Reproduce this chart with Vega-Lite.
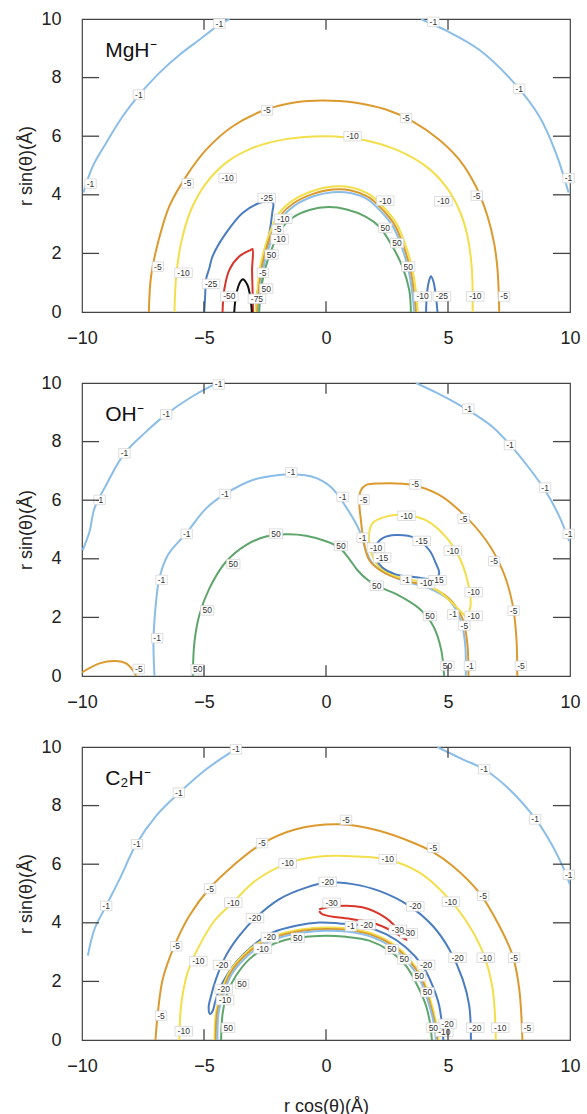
{
"$schema":"https://vega.github.io/schema/vega-lite/v6.json",
"padding":{"left":17,"top":9,"right":5,"bottom":5},
"spacing":71,
"bounds":"flush",
"config":{
 "view":{"stroke":"#444","strokeWidth":1.2},
 "font":"Liberation Sans",
 "axis":{"labelFont":"Liberation Sans","labelFontSize":18,"labelColor":"#222","ticks":false,"domain":false,"grid":false,"titleFont":"Liberation Sans","titleFontSize":18,"titleFontWeight":"normal","titleColor":"#222","labelFlush":false,"labelOverlap":false}
},
"datasets":{
"TX":[{"v":-5},{"v":0},{"v":5}],
"TY":[{"v":2},{"v":4},{"v":6},{"v":8}],
"L":[
{"p":1,"s":1,"l":"-1","x":-9.94,"y":4.08},{"p":1,"s":1,"l":"-1","x":-9.56,"y":4.97},{"p":1,"s":1,"l":"-1","x":-9.01,"y":5.77},{"p":1,"s":1,"l":"-1","x":-8.33,"y":6.68},{"p":1,"s":1,"l":"-1","x":-7.65,"y":7.42},{"p":1,"s":1,"l":"-1","x":-6.83,"y":8.16},{"p":1,"s":1,"l":"-1","x":-6.0,"y":8.78},{"p":1,"s":1,"l":"-1","x":-5.19,"y":9.29},{"p":1,"s":1,"l":"-1","x":-4.37,"y":9.81},{"p":1,"s":1,"l":"-1","x":-3.95,"y":10.0},
{"p":1,"s":2,"l":"-1","x":3.9,"y":10.0},{"p":1,"s":2,"l":"-1","x":4.1,"y":9.92},{"p":1,"s":2,"l":"-1","x":4.91,"y":9.61},{"p":1,"s":2,"l":"-1","x":6.28,"y":8.95},{"p":1,"s":2,"l":"-1","x":7.65,"y":7.87},{"p":1,"s":2,"l":"-1","x":8.74,"y":6.68},{"p":1,"s":2,"l":"-1","x":9.42,"y":5.43},{"p":1,"s":2,"l":"-1","x":9.94,"y":4.08},
{"p":1,"s":3,"l":"-5","x":-7.26,"y":0},{"p":1,"s":3,"l":"-5","x":-7.17,"y":1.22},{"p":1,"s":3,"l":"-5","x":-6.89,"y":2.35},{"p":1,"s":3,"l":"-5","x":-6.42,"y":3.61},{"p":1,"s":3,"l":"-5","x":-5.73,"y":4.63},{"p":1,"s":3,"l":"-5","x":-4.91,"y":5.54},{"p":1,"s":3,"l":"-5","x":-3.82,"y":6.34},{"p":1,"s":3,"l":"-5","x":-2.46,"y":6.91},{"p":1,"s":3,"l":"-5","x":-1.23,"y":7.16},{"p":1,"s":3,"l":"-5","x":-0.14,"y":7.22},{"p":1,"s":3,"l":"-5","x":1.09,"y":7.16},{"p":1,"s":3,"l":"-5","x":2.46,"y":6.91},{"p":1,"s":3,"l":"-5","x":3.55,"y":6.51},{"p":1,"s":3,"l":"-5","x":4.64,"y":5.88},{"p":1,"s":3,"l":"-5","x":5.46,"y":5.2},{"p":1,"s":3,"l":"-5","x":6.14,"y":4.29},{"p":1,"s":3,"l":"-5","x":6.62,"y":3.27},{"p":1,"s":3,"l":"-5","x":6.89,"y":2.35},{"p":1,"s":3,"l":"-5","x":7.03,"y":1.44},{"p":1,"s":3,"l":"-5","x":7.1,"y":0},
{"p":1,"s":4,"l":"-10","x":-6.21,"y":0},{"p":1,"s":4,"l":"-10","x":-6.14,"y":1.22},{"p":1,"s":4,"l":"-10","x":-5.94,"y":2.35},{"p":1,"s":4,"l":"-10","x":-5.53,"y":3.49},{"p":1,"s":4,"l":"-10","x":-4.91,"y":4.4},{"p":1,"s":4,"l":"-10","x":-4.1,"y":5.09},{"p":1,"s":4,"l":"-10","x":-3.0,"y":5.6},{"p":1,"s":4,"l":"-10","x":-1.64,"y":5.9},{"p":1,"s":4,"l":"-10","x":0,"y":6.0},{"p":1,"s":4,"l":"-10","x":1.5,"y":5.88},{"p":1,"s":4,"l":"-10","x":2.87,"y":5.54},{"p":1,"s":4,"l":"-10","x":4.1,"y":4.97},{"p":1,"s":4,"l":"-10","x":4.91,"y":4.29},{"p":1,"s":4,"l":"-10","x":5.46,"y":3.49},{"p":1,"s":4,"l":"-10","x":5.8,"y":2.58},{"p":1,"s":4,"l":"-10","x":5.98,"y":1.44},{"p":1,"s":4,"l":"-10","x":6.01,"y":0},
{"p":1,"s":5,"l":"-25","x":-4.99,"y":0},{"p":1,"s":5,"l":"-25","x":-4.95,"y":0.6},{"p":1,"s":5,"l":"-25","x":-4.92,"y":1.1},{"p":1,"s":5,"l":"-25","x":-4.78,"y":1.5},{"p":1,"s":5,"l":"-25","x":-4.65,"y":1.9},{"p":1,"s":5,"l":"-25","x":-4.1,"y":2.69},{"p":1,"s":5,"l":"-25","x":-3.42,"y":3.38},{"p":1,"s":5,"l":"-25","x":-2.74,"y":3.72},{"p":1,"s":5,"l":"-25","x":-2.4,"y":3.78},{"p":1,"s":5,"l":"-25","x":-2.17,"y":3.72},{"p":1,"s":5,"l":"-25","x":-2.2,"y":3.4},{"p":1,"s":5,"l":"-25","x":-2.32,"y":2.69},{"p":1,"s":5,"l":"-25","x":-2.5,"y":2.0},{"p":1,"s":5,"l":"-25","x":-2.67,"y":1.44},{"p":1,"s":5,"l":"-25","x":-2.8,"y":0.7},{"p":1,"s":5,"l":"-25","x":-2.87,"y":0},
{"p":1,"s":6,"l":"-25","x":4.1,"y":0},{"p":1,"s":6,"l":"-25","x":4.14,"y":0.65},{"p":1,"s":6,"l":"-25","x":4.22,"y":1.05},{"p":1,"s":6,"l":"-25","x":4.3,"y":1.22},{"p":1,"s":6,"l":"-25","x":4.4,"y":1.05},{"p":1,"s":6,"l":"-25","x":4.5,"y":0.55},{"p":1,"s":6,"l":"-25","x":4.57,"y":0},
{"p":1,"s":7,"l":"-50","x":-4.24,"y":0},{"p":1,"s":7,"l":"-50","x":-4.17,"y":0.76},{"p":1,"s":7,"l":"-50","x":-3.96,"y":1.44},{"p":1,"s":7,"l":"-50","x":-3.55,"y":1.9},{"p":1,"s":7,"l":"-50","x":-3.08,"y":2.12},{"p":1,"s":7,"l":"-50","x":-3.01,"y":2.15},{"p":1,"s":7,"l":"-50","x":-3.03,"y":1.44},{"p":1,"s":7,"l":"-50","x":-3.01,"y":0.76},{"p":1,"s":7,"l":"-50","x":-2.99,"y":0},
{"p":1,"s":8,"l":"-75","x":-3.76,"y":0},{"p":1,"s":8,"l":"-75","x":-3.68,"y":0.6},{"p":1,"s":8,"l":"-75","x":-3.5,"y":1.05},{"p":1,"s":8,"l":"-75","x":-3.4,"y":1.12},{"p":1,"s":8,"l":"-75","x":-3.22,"y":0.92},{"p":1,"s":8,"l":"-75","x":-3.1,"y":0.5},{"p":1,"s":8,"l":"-75","x":-3.04,"y":0},
{"p":1,"s":9,"l":"-10","x":-2.88,"y":0},{"p":1,"s":9,"l":"-10","x":-2.8,"y":0.8},{"p":1,"s":9,"l":"-10","x":-2.72,"y":1.44},{"p":1,"s":9,"l":"-10","x":-2.53,"y":2.13},{"p":1,"s":9,"l":"-10","x":-2.26,"y":2.81},{"p":1,"s":9,"l":"-10","x":-1.92,"y":3.38},{"p":1,"s":9,"l":"-10","x":-1.37,"y":3.8},{"p":1,"s":9,"l":"-10","x":-0.55,"y":4.13},{"p":1,"s":9,"l":"-10","x":0.27,"y":4.28},{"p":1,"s":9,"l":"-10","x":1.09,"y":4.24},{"p":1,"s":9,"l":"-10","x":1.77,"y":4.02},{"p":1,"s":9,"l":"-10","x":2.31,"y":3.62},{"p":1,"s":9,"l":"-10","x":2.86,"y":3.06},{"p":1,"s":9,"l":"-10","x":3.27,"y":2.26},{"p":1,"s":9,"l":"-10","x":3.54,"y":1.45},{"p":1,"s":9,"l":"-10","x":3.71,"y":0.52},{"p":1,"s":9,"l":"-10","x":3.76,"y":0},
{"p":1,"s":10,"l":"-5","x":-2.82,"y":0},{"p":1,"s":10,"l":"-5","x":-2.74,"y":0.8},{"p":1,"s":10,"l":"-5","x":-2.65,"y":1.44},{"p":1,"s":10,"l":"-5","x":-2.46,"y":2.1},{"p":1,"s":10,"l":"-5","x":-2.19,"y":2.75},{"p":1,"s":10,"l":"-5","x":-1.86,"y":3.3},{"p":1,"s":10,"l":"-5","x":-1.33,"y":3.71},{"p":1,"s":10,"l":"-5","x":-0.53,"y":4.03},{"p":1,"s":10,"l":"-5","x":0.27,"y":4.18},{"p":1,"s":10,"l":"-5","x":1.07,"y":4.14},{"p":1,"s":10,"l":"-5","x":1.73,"y":3.93},{"p":1,"s":10,"l":"-5","x":2.26,"y":3.54},{"p":1,"s":10,"l":"-5","x":2.79,"y":3.0},{"p":1,"s":10,"l":"-5","x":3.19,"y":2.22},{"p":1,"s":10,"l":"-5","x":3.46,"y":1.42},{"p":1,"s":10,"l":"-5","x":3.63,"y":0.51},{"p":1,"s":10,"l":"-5","x":3.68,"y":0},
{"p":1,"s":11,"l":"-1","x":-2.76,"y":0},{"p":1,"s":11,"l":"-1","x":-2.68,"y":0.8},{"p":1,"s":11,"l":"-1","x":-2.58,"y":1.44},{"p":1,"s":11,"l":"-1","x":-2.39,"y":2.08},{"p":1,"s":11,"l":"-1","x":-2.12,"y":2.7},{"p":1,"s":11,"l":"-1","x":-1.8,"y":3.23},{"p":1,"s":11,"l":"-1","x":-1.29,"y":3.63},{"p":1,"s":11,"l":"-1","x":-0.51,"y":3.95},{"p":1,"s":11,"l":"-1","x":0.27,"y":4.09},{"p":1,"s":11,"l":"-1","x":1.05,"y":4.05},{"p":1,"s":11,"l":"-1","x":1.69,"y":3.85},{"p":1,"s":11,"l":"-1","x":2.21,"y":3.47},{"p":1,"s":11,"l":"-1","x":2.73,"y":2.94},{"p":1,"s":11,"l":"-1","x":3.12,"y":2.18},{"p":1,"s":11,"l":"-1","x":3.39,"y":1.4},{"p":1,"s":11,"l":"-1","x":3.56,"y":0.5},{"p":1,"s":11,"l":"-1","x":3.61,"y":0},
{"p":1,"s":12,"l":"50","x":-2.74,"y":0},{"p":1,"s":12,"l":"50","x":-2.64,"y":0.9},{"p":1,"s":12,"l":"50","x":-2.45,"y":1.6},{"p":1,"s":12,"l":"50","x":-2.2,"y":2.2},{"p":1,"s":12,"l":"50","x":-1.91,"y":2.75},{"p":1,"s":12,"l":"50","x":-1.4,"y":3.2},{"p":1,"s":12,"l":"50","x":-0.68,"y":3.48},{"p":1,"s":12,"l":"50","x":0.1,"y":3.58},{"p":1,"s":12,"l":"50","x":0.85,"y":3.5},{"p":1,"s":12,"l":"50","x":1.64,"y":3.25},{"p":1,"s":12,"l":"50","x":2.18,"y":2.92},{"p":1,"s":12,"l":"50","x":2.72,"y":2.24},{"p":1,"s":12,"l":"50","x":3.13,"y":1.55},{"p":1,"s":12,"l":"50","x":3.41,"y":0.76},{"p":1,"s":12,"l":"50","x":3.48,"y":0},

{"p":2,"s":1,"l":"-1","x":-9.97,"y":4.3},{"p":2,"s":1,"l":"-1","x":-9.69,"y":4.93},{"p":2,"s":1,"l":"-1","x":-9.49,"y":5.72},{"p":2,"s":1,"l":"-1","x":-9.01,"y":6.52},{"p":2,"s":1,"l":"-1","x":-8.26,"y":7.6},{"p":2,"s":1,"l":"-1","x":-7.37,"y":8.34},{"p":2,"s":1,"l":"-1","x":-6.55,"y":8.93},{"p":2,"s":1,"l":"-1","x":-5.6,"y":9.48},{"p":2,"s":1,"l":"-1","x":-4.64,"y":9.93},{"p":2,"s":1,"l":"-1","x":-4.44,"y":10.0},
{"p":2,"s":2,"l":"-1","x":3.69,"y":10.0},{"p":2,"s":2,"l":"-1","x":4.5,"y":9.68},{"p":2,"s":2,"l":"-1","x":5.3,"y":9.33},{"p":2,"s":2,"l":"-1","x":6.1,"y":8.93},{"p":2,"s":2,"l":"-1","x":6.83,"y":8.5},{"p":2,"s":2,"l":"-1","x":7.51,"y":7.92},{"p":2,"s":2,"l":"-1","x":8.33,"y":7.09},{"p":2,"s":2,"l":"-1","x":9.01,"y":6.3},{"p":2,"s":2,"l":"-1","x":9.56,"y":5.45},{"p":2,"s":2,"l":"-1","x":9.97,"y":4.6},
{"p":2,"s":3,"l":"-1","x":-7.03,"y":0},{"p":2,"s":3,"l":"-1","x":-7.07,"y":1.17},{"p":2,"s":3,"l":"-1","x":-6.99,"y":2.31},{"p":2,"s":3,"l":"-1","x":-6.83,"y":3.33},{"p":2,"s":3,"l":"-1","x":-6.48,"y":4.13},{"p":2,"s":3,"l":"-1","x":-5.73,"y":4.87},{"p":2,"s":3,"l":"-1","x":-4.91,"y":5.72},{"p":2,"s":3,"l":"-1","x":-4.1,"y":6.23},{"p":2,"s":3,"l":"-1","x":-3.0,"y":6.69},{"p":2,"s":3,"l":"-1","x":-1.91,"y":6.86},{"p":2,"s":3,"l":"-1","x":-1.37,"y":6.88},{"p":2,"s":3,"l":"-1","x":-0.55,"y":6.8},{"p":2,"s":3,"l":"-1","x":0.2,"y":6.45},{"p":2,"s":3,"l":"-1","x":0.81,"y":5.78},{"p":2,"s":3,"l":"-1","x":1.36,"y":4.98},{"p":2,"s":3,"l":"-1","x":1.63,"y":4.3},{"p":2,"s":3,"l":"-1","x":1.9,"y":3.85},{"p":2,"s":3,"l":"-1","x":2.45,"y":3.51},{"p":2,"s":3,"l":"-1","x":3.27,"y":3.22},{"p":2,"s":3,"l":"-1","x":4.23,"y":2.99},{"p":2,"s":3,"l":"-1","x":5.04,"y":2.59},{"p":2,"s":3,"l":"-1","x":5.52,"y":1.91},{"p":2,"s":3,"l":"-1","x":5.7,"y":1.12},{"p":2,"s":3,"l":"-1","x":5.73,"y":0},
{"p":2,"s":4,"l":"50","x":-5.46,"y":0},{"p":2,"s":4,"l":"50","x":-5.39,"y":1.17},{"p":2,"s":4,"l":"50","x":-5.19,"y":2.08},{"p":2,"s":4,"l":"50","x":-4.78,"y":2.99},{"p":2,"s":4,"l":"50","x":-4.1,"y":3.9},{"p":2,"s":4,"l":"50","x":-3.28,"y":4.47},{"p":2,"s":4,"l":"50","x":-2.46,"y":4.76},{"p":2,"s":4,"l":"50","x":-1.64,"y":4.84},{"p":2,"s":4,"l":"50","x":-0.82,"y":4.79},{"p":2,"s":4,"l":"50","x":0.0,"y":4.6},{"p":2,"s":4,"l":"50","x":0.55,"y":4.38},{"p":2,"s":4,"l":"50","x":0.95,"y":4.0},{"p":2,"s":4,"l":"50","x":1.3,"y":3.6},{"p":2,"s":4,"l":"50","x":1.75,"y":3.25},{"p":2,"s":4,"l":"50","x":2.3,"y":3.0},{"p":2,"s":4,"l":"50","x":2.86,"y":2.8},{"p":2,"s":4,"l":"50","x":3.82,"y":2.3},{"p":2,"s":4,"l":"50","x":4.4,"y":1.7},{"p":2,"s":4,"l":"50","x":4.72,"y":0.9},{"p":2,"s":4,"l":"50","x":4.84,"y":0},
{"p":2,"s":5,"l":"-5","x":-10.0,"y":0.12},{"p":2,"s":5,"l":"-5","x":-9.28,"y":0.43},{"p":2,"s":5,"l":"-5","x":-8.6,"y":0.51},{"p":2,"s":5,"l":"-5","x":-8.19,"y":0.43},{"p":2,"s":5,"l":"-5","x":-7.92,"y":0.2},{"p":2,"s":5,"l":"-5","x":-7.78,"y":0},
{"p":2,"s":6,"l":"-5","x":5.84,"y":0},{"p":2,"s":6,"l":"-5","x":5.79,"y":1.12},{"p":2,"s":6,"l":"-5","x":5.59,"y":1.97},{"p":2,"s":6,"l":"-5","x":5.04,"y":2.65},{"p":2,"s":6,"l":"-5","x":4.23,"y":3.05},{"p":2,"s":6,"l":"-5","x":3.13,"y":3.28},{"p":2,"s":6,"l":"-5","x":2.31,"y":3.56},{"p":2,"s":6,"l":"-5","x":1.77,"y":3.96},{"p":2,"s":6,"l":"-5","x":1.56,"y":4.53},{"p":2,"s":6,"l":"-5","x":1.43,"y":5.32},{"p":2,"s":6,"l":"-5","x":1.36,"y":6.0},{"p":2,"s":6,"l":"-5","x":1.42,"y":6.32},{"p":2,"s":6,"l":"-5","x":1.65,"y":6.52},{"p":2,"s":6,"l":"-5","x":2.18,"y":6.57},{"p":2,"s":6,"l":"-5","x":3.54,"y":6.52},{"p":2,"s":6,"l":"-5","x":4.64,"y":6.18},{"p":2,"s":6,"l":"-5","x":5.59,"y":5.55},{"p":2,"s":6,"l":"-5","x":6.55,"y":4.64},{"p":2,"s":6,"l":"-5","x":7.23,"y":3.62},{"p":2,"s":6,"l":"-5","x":7.64,"y":2.48},{"p":2,"s":6,"l":"-5","x":7.8,"y":1.34},{"p":2,"s":6,"l":"-5","x":7.84,"y":0},
{"p":2,"s":7,"l":"-10","x":5.79,"y":1.97},{"p":2,"s":7,"l":"-10","x":5.93,"y":2.48},{"p":2,"s":7,"l":"-10","x":5.79,"y":3.28},{"p":2,"s":7,"l":"-10","x":5.45,"y":4.07},{"p":2,"s":7,"l":"-10","x":4.91,"y":4.75},{"p":2,"s":7,"l":"-10","x":4.09,"y":5.32},{"p":2,"s":7,"l":"-10","x":3.27,"y":5.49},{"p":2,"s":7,"l":"-10","x":2.45,"y":5.44},{"p":2,"s":7,"l":"-10","x":1.9,"y":5.21},{"p":2,"s":7,"l":"-10","x":1.77,"y":4.87},{"p":2,"s":7,"l":"-10","x":1.8,"y":4.4},{"p":2,"s":7,"l":"-10","x":1.95,"y":4.0},{"p":2,"s":7,"l":"-10","x":2.18,"y":3.73},{"p":2,"s":7,"l":"-10","x":2.86,"y":3.41},{"p":2,"s":7,"l":"-10","x":3.82,"y":3.22},{"p":2,"s":7,"l":"-10","x":4.64,"y":2.88},{"p":2,"s":7,"l":"-10","x":5.32,"y":2.37},{"p":2,"s":7,"l":"-10","x":5.79,"y":1.97},
{"p":2,"s":8,"l":"-15","x":2.04,"y":4.47},{"p":2,"s":8,"l":"-15","x":2.31,"y":4.7},{"p":2,"s":8,"l":"-15","x":2.86,"y":4.81},{"p":2,"s":8,"l":"-15","x":3.68,"y":4.7},{"p":2,"s":8,"l":"-15","x":4.23,"y":4.3},{"p":2,"s":8,"l":"-15","x":4.5,"y":3.85},{"p":2,"s":8,"l":"-15","x":4.64,"y":3.51},{"p":2,"s":8,"l":"-15","x":4.5,"y":3.32},{"p":2,"s":8,"l":"-15","x":3.68,"y":3.37},{"p":2,"s":8,"l":"-15","x":2.86,"y":3.47},{"p":2,"s":8,"l":"-15","x":2.31,"y":3.7},{"p":2,"s":8,"l":"-15","x":2.04,"y":4.02},{"p":2,"s":8,"l":"-15","x":2.01,"y":4.3},{"p":2,"s":8,"l":"-15","x":2.04,"y":4.47},

{"p":3,"s":1,"l":"-1","x":-9.76,"y":2.88},{"p":3,"s":1,"l":"-1","x":-9.49,"y":3.78},{"p":3,"s":1,"l":"-1","x":-9.01,"y":4.58},{"p":3,"s":1,"l":"-1","x":-8.46,"y":5.49},{"p":3,"s":1,"l":"-1","x":-7.78,"y":6.68},{"p":3,"s":1,"l":"-1","x":-6.96,"y":7.65},{"p":3,"s":1,"l":"-1","x":-6.01,"y":8.44},{"p":3,"s":1,"l":"-1","x":-4.91,"y":9.24},{"p":3,"s":1,"l":"-1","x":-3.82,"y":9.86},{"p":3,"s":1,"l":"-1","x":-3.55,"y":10.0},
{"p":3,"s":2,"l":"-1","x":4.57,"y":10.0},{"p":3,"s":2,"l":"-1","x":5.6,"y":9.58},{"p":3,"s":2,"l":"-1","x":6.48,"y":9.24},{"p":3,"s":2,"l":"-1","x":7.51,"y":8.56},{"p":3,"s":2,"l":"-1","x":8.6,"y":7.53},{"p":3,"s":2,"l":"-1","x":9.28,"y":6.63},{"p":3,"s":2,"l":"-1","x":9.69,"y":5.94},{"p":3,"s":2,"l":"-1","x":9.99,"y":5.32},
{"p":3,"s":3,"l":"-5","x":-6.99,"y":0},{"p":3,"s":3,"l":"-5","x":-6.89,"y":0.94},{"p":3,"s":3,"l":"-5","x":-6.69,"y":2.08},{"p":3,"s":3,"l":"-5","x":-6.21,"y":3.22},{"p":3,"s":3,"l":"-5","x":-5.6,"y":4.24},{"p":3,"s":3,"l":"-5","x":-4.78,"y":5.17},{"p":3,"s":3,"l":"-5","x":-3.82,"y":5.94},{"p":3,"s":3,"l":"-5","x":-2.66,"y":6.68},{"p":3,"s":3,"l":"-5","x":-1.23,"y":7.19},{"p":3,"s":3,"l":"-5","x":0.55,"y":7.36},{"p":3,"s":3,"l":"-5","x":2.18,"y":7.14},{"p":3,"s":3,"l":"-5","x":3.55,"y":6.74},{"p":3,"s":3,"l":"-5","x":4.37,"y":6.42},{"p":3,"s":3,"l":"-5","x":5.19,"y":5.94},{"p":3,"s":3,"l":"-5","x":6.28,"y":5.03},{"p":3,"s":3,"l":"-5","x":7.1,"y":3.9},{"p":3,"s":3,"l":"-5","x":7.65,"y":2.88},{"p":3,"s":3,"l":"-5","x":7.92,"y":1.74},{"p":3,"s":3,"l":"-5","x":8.05,"y":0},
{"p":3,"s":4,"l":"-10","x":-6.01,"y":0},{"p":3,"s":4,"l":"-10","x":-5.94,"y":1.17},{"p":3,"s":4,"l":"-10","x":-5.67,"y":2.31},{"p":3,"s":4,"l":"-10","x":-5.19,"y":3.22},{"p":3,"s":4,"l":"-10","x":-4.57,"y":4.07},{"p":3,"s":4,"l":"-10","x":-3.82,"y":4.69},{"p":3,"s":4,"l":"-10","x":-2.87,"y":5.45},{"p":3,"s":4,"l":"-10","x":-1.57,"y":6.03},{"p":3,"s":4,"l":"-10","x":-0.27,"y":6.26},{"p":3,"s":4,"l":"-10","x":0.82,"y":6.28},{"p":3,"s":4,"l":"-10","x":2.46,"y":6.17},{"p":3,"s":4,"l":"-10","x":3.82,"y":5.72},{"p":3,"s":4,"l":"-10","x":5.05,"y":4.81},{"p":3,"s":4,"l":"-10","x":5.87,"y":3.9},{"p":3,"s":4,"l":"-10","x":6.48,"y":2.88},{"p":3,"s":4,"l":"-10","x":6.83,"y":1.74},{"p":3,"s":4,"l":"-10","x":6.96,"y":0},
{"p":3,"s":5,"l":"-20","x":4.81,"y":0},{"p":3,"s":5,"l":"-20","x":4.64,"y":1.17},{"p":3,"s":5,"l":"-20","x":4.37,"y":1.85},{"p":3,"s":5,"l":"-20","x":3.96,"y":2.53},{"p":3,"s":5,"l":"-20","x":3.28,"y":3.16},{"p":3,"s":5,"l":"-20","x":2.46,"y":3.61},{"p":3,"s":5,"l":"-20","x":1.5,"y":3.9},{"p":3,"s":5,"l":"-20","x":0.55,"y":3.98},{"p":3,"s":5,"l":"-20","x":-0.27,"y":4.01},{"p":3,"s":5,"l":"-20","x":-1.23,"y":3.9},{"p":3,"s":5,"l":"-20","x":-2.18,"y":3.67},{"p":3,"s":5,"l":"-20","x":-3.0,"y":3.22},{"p":3,"s":5,"l":"-20","x":-3.69,"y":2.65},{"p":3,"s":5,"l":"-20","x":-4.23,"y":1.97},{"p":3,"s":5,"l":"-20","x":-4.51,"y":1.4},{"p":3,"s":5,"l":"-20","x":-4.64,"y":1.0},{"p":3,"s":5,"l":"-20","x":-4.75,"y":0.89},{"p":3,"s":5,"l":"-20","x":-4.81,"y":1.11},{"p":3,"s":5,"l":"-20","x":-4.71,"y":1.51},{"p":3,"s":5,"l":"-20","x":-4.51,"y":2.08},{"p":3,"s":5,"l":"-20","x":-4.1,"y":2.88},{"p":3,"s":5,"l":"-20","x":-3.55,"y":3.56},{"p":3,"s":5,"l":"-20","x":-2.87,"y":4.18},{"p":3,"s":5,"l":"-20","x":-1.91,"y":4.81},{"p":3,"s":5,"l":"-20","x":-0.82,"y":5.2},{"p":3,"s":5,"l":"-20","x":0.07,"y":5.38},{"p":3,"s":5,"l":"-20","x":1.09,"y":5.32},{"p":3,"s":5,"l":"-20","x":2.18,"y":5.09},{"p":3,"s":5,"l":"-20","x":3.41,"y":4.58},{"p":3,"s":5,"l":"-20","x":4.37,"y":3.9},{"p":3,"s":5,"l":"-20","x":5.05,"y":3.1},{"p":3,"s":5,"l":"-20","x":5.6,"y":2.08},{"p":3,"s":5,"l":"-20","x":5.87,"y":1.17},{"p":3,"s":5,"l":"-20","x":5.94,"y":0},
{"p":3,"s":6,"l":"-30","x":-0.28,"y":4.46},{"p":3,"s":6,"l":"-30","x":0.41,"y":4.57},{"p":3,"s":6,"l":"-30","x":1.49,"y":4.53},{"p":3,"s":6,"l":"-30","x":2.45,"y":4.17},{"p":3,"s":6,"l":"-30","x":3.13,"y":3.61},{"p":3,"s":6,"l":"-30","x":3.3,"y":3.42},{"p":3,"s":6,"l":"-30","x":2.72,"y":3.72},{"p":3,"s":6,"l":"-30","x":1.9,"y":4.0},{"p":3,"s":6,"l":"-30","x":1.09,"y":4.12},{"p":3,"s":6,"l":"-30","x":-0.14,"y":4.29},{"p":3,"s":6,"l":"-30","x":-0.28,"y":4.4},
{"p":3,"s":7,"l":"-10","x":-4.57,"y":0},{"p":3,"s":7,"l":"-10","x":-4.51,"y":0.94},{"p":3,"s":7,"l":"-10","x":-4.3,"y":1.63},{"p":3,"s":7,"l":"-10","x":-3.96,"y":2.31},{"p":3,"s":7,"l":"-10","x":-3.41,"y":2.88},{"p":3,"s":7,"l":"-10","x":-2.73,"y":3.33},{"p":3,"s":7,"l":"-10","x":-1.91,"y":3.61},{"p":3,"s":7,"l":"-10","x":-0.96,"y":3.78},{"p":3,"s":7,"l":"-10","x":0,"y":3.84},{"p":3,"s":7,"l":"-10","x":0.96,"y":3.8},{"p":3,"s":7,"l":"-10","x":1.91,"y":3.63},{"p":3,"s":7,"l":"-10","x":2.73,"y":3.29},{"p":3,"s":7,"l":"-10","x":3.41,"y":2.78},{"p":3,"s":7,"l":"-10","x":3.96,"y":2.1},{"p":3,"s":7,"l":"-10","x":4.3,"y":1.3},{"p":3,"s":7,"l":"-10","x":4.51,"y":0.6},{"p":3,"s":7,"l":"-10","x":4.61,"y":0},
{"p":3,"s":8,"l":"-5","x":-4.52,"y":0},{"p":3,"s":8,"l":"-5","x":-4.46,"y":0.94},{"p":3,"s":8,"l":"-5","x":-4.25,"y":1.61},{"p":3,"s":8,"l":"-5","x":-3.92,"y":2.28},{"p":3,"s":8,"l":"-5","x":-3.37,"y":2.84},{"p":3,"s":8,"l":"-5","x":-2.7,"y":3.28},{"p":3,"s":8,"l":"-5","x":-1.89,"y":3.56},{"p":3,"s":8,"l":"-5","x":-0.95,"y":3.73},{"p":3,"s":8,"l":"-5","x":0,"y":3.79},{"p":3,"s":8,"l":"-5","x":0.95,"y":3.75},{"p":3,"s":8,"l":"-5","x":1.89,"y":3.58},{"p":3,"s":8,"l":"-5","x":2.7,"y":3.25},{"p":3,"s":8,"l":"-5","x":3.37,"y":2.75},{"p":3,"s":8,"l":"-5","x":3.92,"y":2.08},{"p":3,"s":8,"l":"-5","x":4.25,"y":1.29},{"p":3,"s":8,"l":"-5","x":4.46,"y":0.6},{"p":3,"s":8,"l":"-5","x":4.56,"y":0},
{"p":3,"s":9,"l":"-1","x":-4.45,"y":0},{"p":3,"s":9,"l":"-1","x":-4.4,"y":0.94},{"p":3,"s":9,"l":"-1","x":-4.19,"y":1.6},{"p":3,"s":9,"l":"-1","x":-3.86,"y":2.25},{"p":3,"s":9,"l":"-1","x":-3.32,"y":2.79},{"p":3,"s":9,"l":"-1","x":-2.65,"y":3.22},{"p":3,"s":9,"l":"-1","x":-1.87,"y":3.5},{"p":3,"s":9,"l":"-1","x":-0.94,"y":3.67},{"p":3,"s":9,"l":"-1","x":0,"y":3.73},{"p":3,"s":9,"l":"-1","x":0.94,"y":3.69},{"p":3,"s":9,"l":"-1","x":1.87,"y":3.52},{"p":3,"s":9,"l":"-1","x":2.66,"y":3.19},{"p":3,"s":9,"l":"-1","x":3.32,"y":2.69},{"p":3,"s":9,"l":"-1","x":3.86,"y":2.04},{"p":3,"s":9,"l":"-1","x":4.2,"y":1.27},{"p":3,"s":9,"l":"-1","x":4.41,"y":0.6},{"p":3,"s":9,"l":"-1","x":4.51,"y":0},
{"p":3,"s":10,"l":"50","x":-4.3,"y":0},{"p":3,"s":10,"l":"50","x":-4.23,"y":0.94},{"p":3,"s":10,"l":"50","x":-4.03,"y":1.63},{"p":3,"s":10,"l":"50","x":-3.69,"y":2.19},{"p":3,"s":10,"l":"50","x":-3.14,"y":2.76},{"p":3,"s":10,"l":"50","x":-2.46,"y":3.16},{"p":3,"s":10,"l":"50","x":-1.64,"y":3.42},{"p":3,"s":10,"l":"50","x":-0.68,"y":3.53},{"p":3,"s":10,"l":"50","x":0,"y":3.56},{"p":3,"s":10,"l":"50","x":0.82,"y":3.52},{"p":3,"s":10,"l":"50","x":1.77,"y":3.39},{"p":3,"s":10,"l":"50","x":2.59,"y":3.05},{"p":3,"s":10,"l":"50","x":3.28,"y":2.53},{"p":3,"s":10,"l":"50","x":3.75,"y":1.85},{"p":3,"s":10,"l":"50","x":4.1,"y":1.17},{"p":3,"s":10,"l":"50","x":4.26,"y":0.6},{"p":3,"s":10,"l":"50","x":4.34,"y":0}
],
"T":[
{"p":1,"l":"-1","x":-4.37,"y":9.84},{"p":1,"l":"-1","x":-7.67,"y":7.42},{"p":1,"l":"-1","x":-9.65,"y":4.38},{"p":1,"l":"-1","x":4.4,"y":9.9},{"p":1,"l":"-1","x":7.92,"y":7.62},{"p":1,"l":"-1","x":9.94,"y":4.57},
{"p":1,"l":"-5","x":-2.42,"y":6.88},{"p":1,"l":"-5","x":3.28,"y":6.62},{"p":1,"l":"-5","x":-5.67,"y":4.39},{"p":1,"l":"-5","x":6.18,"y":3.97},{"p":1,"l":"-5","x":-6.89,"y":1.55},{"p":1,"l":"-5","x":7.3,"y":0.53},{"p":1,"l":"-5","x":-2.59,"y":1.34},{"p":1,"l":"-5","x":-1.98,"y":2.82},
{"p":1,"l":"-10","x":1.09,"y":6.0},{"p":1,"l":"-10","x":-4.03,"y":4.57},{"p":1,"l":"-10","x":4.81,"y":3.78},{"p":1,"l":"-10","x":-5.84,"y":1.34},{"p":1,"l":"-10","x":6.12,"y":0.53},{"p":1,"l":"-10","x":-1.75,"y":3.18},{"p":1,"l":"-10","x":2.43,"y":3.8},{"p":1,"l":"-10","x":3.96,"y":0.53},{"p":1,"l":"-10","x":-1.9,"y":2.48},
{"p":1,"l":"-25","x":-2.43,"y":3.89},{"p":1,"l":"-25","x":-4.71,"y":0.96},{"p":1,"l":"-25","x":4.75,"y":0.53},
{"p":1,"l":"-50","x":-3.96,"y":0.53},{"p":1,"l":"-75","x":-2.83,"y":0.45},
{"p":1,"l":"50","x":2.43,"y":2.87},{"p":1,"l":"50","x":2.91,"y":2.35},{"p":1,"l":"50","x":3.37,"y":1.55},{"p":1,"l":"50","x":-2.23,"y":1.96},{"p":1,"l":"50","x":-2.45,"y":0.8},

{"p":2,"l":"-1","x":-4.4,"y":9.95},{"p":2,"l":"-1","x":-6.55,"y":8.93},{"p":2,"l":"-1","x":-8.26,"y":7.6},{"p":2,"l":"-1","x":-9.28,"y":6.01},{"p":2,"l":"-1","x":-4.14,"y":6.21},{"p":2,"l":"-1","x":-5.71,"y":4.85},{"p":2,"l":"-1","x":-6.74,"y":3.28},{"p":2,"l":"-1","x":-6.92,"y":1.29},{"p":2,"l":"-1","x":-1.42,"y":6.95},{"p":2,"l":"-1","x":0.68,"y":6.11},{"p":2,"l":"-1","x":5.83,"y":9.12},{"p":2,"l":"-1","x":7.54,"y":7.88},{"p":2,"l":"-1","x":8.98,"y":6.43},{"p":2,"l":"-1","x":9.95,"y":4.85},{"p":2,"l":"-1","x":1.5,"y":4.72},{"p":2,"l":"-1","x":3.28,"y":3.28},{"p":2,"l":"-1","x":5.21,"y":2.1},{"p":2,"l":"-1","x":5.9,"y":0.35},
{"p":2,"l":"-5","x":3.66,"y":6.54},{"p":2,"l":"-5","x":1.54,"y":6.02},{"p":2,"l":"-5","x":5.64,"y":5.37},{"p":2,"l":"-5","x":6.89,"y":3.92},{"p":2,"l":"-5","x":7.69,"y":2.23},{"p":2,"l":"-5","x":7.99,"y":0.35},{"p":2,"l":"-5","x":-7.67,"y":0.24},{"p":2,"l":"-5","x":5.67,"y":1.72},
{"p":2,"l":"-10","x":3.3,"y":5.47},{"p":2,"l":"-10","x":5.2,"y":4.28},{"p":2,"l":"-10","x":6.05,"y":2.86},{"p":2,"l":"-10","x":6.05,"y":2.05},{"p":2,"l":"-10","x":2.05,"y":4.38},{"p":2,"l":"-10","x":4.1,"y":3.16},
{"p":2,"l":"-15","x":3.92,"y":4.61},{"p":2,"l":"-15","x":2.3,"y":4.04},{"p":2,"l":"-15","x":4.57,"y":3.27},
{"p":2,"l":"50","x":-2.05,"y":4.86},{"p":2,"l":"50","x":0.61,"y":4.44},{"p":2,"l":"50","x":-3.8,"y":3.82},{"p":2,"l":"50","x":-4.87,"y":2.24},{"p":2,"l":"50","x":2.08,"y":3.08},{"p":2,"l":"50","x":4.26,"y":2.05},{"p":2,"l":"50","x":-5.26,"y":0.23},{"p":2,"l":"50","x":4.98,"y":0.35},

{"p":3,"l":"-1","x":-3.69,"y":9.92},{"p":3,"l":"-1","x":-6.03,"y":8.44},{"p":3,"l":"-1","x":-7.75,"y":6.68},{"p":3,"l":"-1","x":-9.01,"y":4.58},{"p":3,"l":"-1","x":6.48,"y":9.24},{"p":3,"l":"-1","x":8.57,"y":7.53},{"p":3,"l":"-1","x":9.95,"y":5.64},{"p":3,"l":"-1","x":1.02,"y":3.88},
{"p":3,"l":"-5","x":0.82,"y":7.51},{"p":3,"l":"-5","x":-2.62,"y":6.72},{"p":3,"l":"-5","x":4.4,"y":6.56},{"p":3,"l":"-5","x":-4.75,"y":5.17},{"p":3,"l":"-5","x":6.44,"y":4.92},{"p":3,"l":"-5","x":-6.14,"y":3.2},{"p":3,"l":"-5","x":7.71,"y":2.81},{"p":3,"l":"-5","x":-6.76,"y":0.83},{"p":3,"l":"-5","x":8.26,"y":0.42},
{"p":3,"l":"-10","x":-1.57,"y":6.03},{"p":3,"l":"-10","x":2.53,"y":6.17},{"p":3,"l":"-10","x":-3.8,"y":4.69},{"p":3,"l":"-10","x":5.12,"y":4.72},{"p":3,"l":"-10","x":-5.23,"y":2.69},{"p":3,"l":"-10","x":6.55,"y":2.81},{"p":3,"l":"-10","x":-5.83,"y":0.3},{"p":3,"l":"-10","x":7.14,"y":0.42},{"p":3,"l":"-10","x":-2.6,"y":3.12},{"p":3,"l":"-10","x":-4.14,"y":1.36},{"p":3,"l":"-10","x":4.85,"y":0.28},
{"p":3,"l":"-20","x":0.07,"y":5.4},{"p":3,"l":"-20","x":3.66,"y":4.56},{"p":3,"l":"-20","x":-2.91,"y":4.16},{"p":3,"l":"-20","x":5.39,"y":2.81},{"p":3,"l":"-20","x":-4.26,"y":2.56},{"p":3,"l":"-20","x":-2.3,"y":3.5},{"p":3,"l":"-20","x":-4.19,"y":1.74},{"p":3,"l":"-20","x":1.67,"y":3.94},{"p":3,"l":"-20","x":4.1,"y":2.56},{"p":3,"l":"-20","x":6.12,"y":0.42},{"p":3,"l":"-20","x":4.98,"y":0.55},
{"p":3,"l":"-30","x":0.23,"y":4.68},{"p":3,"l":"-30","x":3.39,"y":3.64},{"p":3,"l":"-30","x":2.94,"y":3.76},
{"p":3,"l":"50","x":-1.16,"y":3.49},{"p":3,"l":"50","x":2.7,"y":3.1},{"p":3,"l":"50","x":3.21,"y":2.75},{"p":3,"l":"50","x":3.82,"y":2.17},{"p":3,"l":"50","x":4.16,"y":1.63},{"p":3,"l":"50","x":-3.44,"y":1.91},{"p":3,"l":"50","x":-4.01,"y":0.42},{"p":3,"l":"50","x":4.4,"y":0.42}
]
},
"vconcat":[
{"width":488,"height":293,
 "layer":[
  {"data":{"name":"L"},"transform":[{"filter":"datum.p==1"}],
   "mark":{"type":"line","strokeWidth":2,"interpolate":"catmull-rom","clip":true},
   "encoding":{
    "x":{"field":"x","type":"quantitative","scale":{"domain":[-10,10],"nice":false,"zero":false},"axis":{"values":[-10,-5,0,5,10],"labelPadding":17,"title":null}},
    "y":{"field":"y","type":"quantitative","scale":{"domain":[0,10],"nice":false},"axis":{"values":[0,2,4,6,8,10],"labelPadding":21,"title":"r sin(θ)(Å)","titlePadding":5}},
    "color":{"field":"l","type":"nominal","scale":{"domain":["-1","-5","-10","-15","-20","-25","-30","-50","-75","50"],"range":["#8abde8","#dc9a2e","#f2df4a","#4a7cc0","#4a7cc0","#4a7cc0","#d9362b","#d9362b","#111111","#5ea56b"]},"legend":null},
    "detail":{"field":"s","type":"nominal"},
    "order":{"value":null}}},
  {"data":{"name":"T"},"transform":[{"filter":"datum.p==1"}],
   "mark":{"type":"point","filled":true,"fill":"white","opacity":1,"stroke":"#d0d0d0","strokeWidth":0.7,"size":90},
   "encoding":{
    "x":{"field":"x","type":"quantitative"},
    "y":{"field":"y","type":"quantitative"},
    "shape":{"field":"l","type":"nominal","scale":{"domain":["-1","-5","-10","-15","-20","-25","-30","-50","-75","50"],"range":["M-1.2,-1H1.2V1H-1.2Z","M-1.2,-1H1.2V1H-1.2Z","M-1.85,-1H1.85V1H-1.85Z","M-1.85,-1H1.85V1H-1.85Z","M-1.85,-1H1.85V1H-1.85Z","M-1.85,-1H1.85V1H-1.85Z","M-1.85,-1H1.85V1H-1.85Z","M-1.85,-1H1.85V1H-1.85Z","M-1.85,-1H1.85V1H-1.85Z","M-1.4,-1H1.4V1H-1.4Z"]},"legend":null}}},
  {"data":{"name":"T"},"transform":[{"filter":"datum.p==1"}],
   "mark":{"type":"text","fontSize":8.5,"font":"Liberation Sans","color":"#333","baseline":"middle","align":"center"},
   "encoding":{"x":{"field":"x","type":"quantitative"},"y":{"field":"y","type":"quantitative"},"text":{"field":"l"}}},
  {"data":{"values":[{}]},
   "mark":{"type":"text","fontSize":21,"font":"Liberation Sans","color":"#111","align":"left","baseline":"alphabetic"},
   "encoding":{"x":{"datum":-9.05,"type":"quantitative"},"y":{"datum":8.72,"type":"quantitative"},"text":{"value":"MgH⁻"}}},
  {"data":{"name":"TX"},"mark":{"type":"rule","color":"#444","strokeWidth":1.3},
   "encoding":{"x":{"field":"v","type":"quantitative"},"y":{"datum":0,"type":"quantitative"},"y2":{"datum":0.37}}},
  {"data":{"name":"TX"},"mark":{"type":"rule","color":"#444","strokeWidth":1.3},
   "encoding":{"x":{"field":"v","type":"quantitative"},"y":{"datum":10,"type":"quantitative"},"y2":{"datum":9.63}}},
  {"data":{"name":"TY"},"mark":{"type":"rule","color":"#444","strokeWidth":1.3},
   "encoding":{"y":{"field":"v","type":"quantitative"},"x":{"datum":-10,"type":"quantitative"},"x2":{"datum":-9.3}}},
  {"data":{"name":"TY"},"mark":{"type":"rule","color":"#444","strokeWidth":1.3},
   "encoding":{"y":{"field":"v","type":"quantitative"},"x":{"datum":10,"type":"quantitative"},"x2":{"datum":9.3}}}
 ]},
{"width":488,"height":293,
 "layer":[
  {"data":{"name":"L"},"transform":[{"filter":"datum.p==2"}],
   "mark":{"type":"line","strokeWidth":2,"interpolate":"catmull-rom","clip":true},
   "encoding":{
    "x":{"field":"x","type":"quantitative","scale":{"domain":[-10,10],"nice":false,"zero":false},"axis":{"values":[-10,-5,0,5,10],"labelPadding":17,"title":null}},
    "y":{"field":"y","type":"quantitative","scale":{"domain":[0,10],"nice":false},"axis":{"values":[0,2,4,6,8,10],"labelPadding":21,"title":"r sin(θ)(Å)","titlePadding":5}},
    "color":{"field":"l","type":"nominal","scale":{"domain":["-1","-5","-10","-15","-20","-25","-30","-50","-75","50"],"range":["#8abde8","#dc9a2e","#f2df4a","#4a7cc0","#4a7cc0","#4a7cc0","#d9362b","#d9362b","#111111","#5ea56b"]},"legend":null},
    "detail":{"field":"s","type":"nominal"},
    "order":{"value":null}}},
  {"data":{"name":"T"},"transform":[{"filter":"datum.p==2"}],
   "mark":{"type":"point","filled":true,"fill":"white","opacity":1,"stroke":"#d0d0d0","strokeWidth":0.7,"size":90},
   "encoding":{
    "x":{"field":"x","type":"quantitative"},
    "y":{"field":"y","type":"quantitative"},
    "shape":{"field":"l","type":"nominal","scale":{"domain":["-1","-5","-10","-15","-20","-25","-30","-50","-75","50"],"range":["M-1.2,-1H1.2V1H-1.2Z","M-1.2,-1H1.2V1H-1.2Z","M-1.85,-1H1.85V1H-1.85Z","M-1.85,-1H1.85V1H-1.85Z","M-1.85,-1H1.85V1H-1.85Z","M-1.85,-1H1.85V1H-1.85Z","M-1.85,-1H1.85V1H-1.85Z","M-1.85,-1H1.85V1H-1.85Z","M-1.85,-1H1.85V1H-1.85Z","M-1.4,-1H1.4V1H-1.4Z"]},"legend":null}}},
  {"data":{"name":"T"},"transform":[{"filter":"datum.p==2"}],
   "mark":{"type":"text","fontSize":8.5,"font":"Liberation Sans","color":"#333","baseline":"middle","align":"center"},
   "encoding":{"x":{"field":"x","type":"quantitative"},"y":{"field":"y","type":"quantitative"},"text":{"field":"l"}}},
  {"data":{"values":[{}]},
   "mark":{"type":"text","fontSize":21,"font":"Liberation Sans","color":"#111","align":"left","baseline":"alphabetic"},
   "encoding":{"x":{"datum":-9.05,"type":"quantitative"},"y":{"datum":8.72,"type":"quantitative"},"text":{"value":"OH⁻"}}},
  {"data":{"name":"TX"},"mark":{"type":"rule","color":"#444","strokeWidth":1.3},
   "encoding":{"x":{"field":"v","type":"quantitative"},"y":{"datum":0,"type":"quantitative"},"y2":{"datum":0.37}}},
  {"data":{"name":"TX"},"mark":{"type":"rule","color":"#444","strokeWidth":1.3},
   "encoding":{"x":{"field":"v","type":"quantitative"},"y":{"datum":10,"type":"quantitative"},"y2":{"datum":9.63}}},
  {"data":{"name":"TY"},"mark":{"type":"rule","color":"#444","strokeWidth":1.3},
   "encoding":{"y":{"field":"v","type":"quantitative"},"x":{"datum":-10,"type":"quantitative"},"x2":{"datum":-9.3}}},
  {"data":{"name":"TY"},"mark":{"type":"rule","color":"#444","strokeWidth":1.3},
   "encoding":{"y":{"field":"v","type":"quantitative"},"x":{"datum":10,"type":"quantitative"},"x2":{"datum":9.3}}}
 ]},
{"width":488,"height":293,
 "layer":[
  {"data":{"name":"L"},"transform":[{"filter":"datum.p==3"}],
   "mark":{"type":"line","strokeWidth":2,"interpolate":"catmull-rom","clip":true},
   "encoding":{
    "x":{"field":"x","type":"quantitative","scale":{"domain":[-10,10],"nice":false,"zero":false},"axis":{"values":[-10,-5,0,5,10],"labelPadding":17,"title":"r cos(θ)(Å)","titlePadding":22}},
    "y":{"field":"y","type":"quantitative","scale":{"domain":[0,10],"nice":false},"axis":{"values":[0,2,4,6,8,10],"labelPadding":21,"title":"r sin(θ)(Å)","titlePadding":5}},
    "color":{"field":"l","type":"nominal","scale":{"domain":["-1","-5","-10","-15","-20","-25","-30","-50","-75","50"],"range":["#8abde8","#dc9a2e","#f2df4a","#4a7cc0","#4a7cc0","#4a7cc0","#d9362b","#d9362b","#111111","#5ea56b"]},"legend":null},
    "detail":{"field":"s","type":"nominal"},
    "order":{"value":null}}},
  {"data":{"name":"T"},"transform":[{"filter":"datum.p==3"}],
   "mark":{"type":"point","filled":true,"fill":"white","opacity":1,"stroke":"#d0d0d0","strokeWidth":0.7,"size":90},
   "encoding":{
    "x":{"field":"x","type":"quantitative"},
    "y":{"field":"y","type":"quantitative"},
    "shape":{"field":"l","type":"nominal","scale":{"domain":["-1","-5","-10","-15","-20","-25","-30","-50","-75","50"],"range":["M-1.2,-1H1.2V1H-1.2Z","M-1.2,-1H1.2V1H-1.2Z","M-1.85,-1H1.85V1H-1.85Z","M-1.85,-1H1.85V1H-1.85Z","M-1.85,-1H1.85V1H-1.85Z","M-1.85,-1H1.85V1H-1.85Z","M-1.85,-1H1.85V1H-1.85Z","M-1.85,-1H1.85V1H-1.85Z","M-1.85,-1H1.85V1H-1.85Z","M-1.4,-1H1.4V1H-1.4Z"]},"legend":null}}},
  {"data":{"name":"T"},"transform":[{"filter":"datum.p==3"}],
   "mark":{"type":"text","fontSize":8.5,"font":"Liberation Sans","color":"#333","baseline":"middle","align":"center"},
   "encoding":{"x":{"field":"x","type":"quantitative"},"y":{"field":"y","type":"quantitative"},"text":{"field":"l"}}},
  {"data":{"values":[{}]},
   "mark":{"type":"text","fontSize":21,"font":"Liberation Sans","color":"#111","align":"left","baseline":"alphabetic"},
   "encoding":{"x":{"datum":-9.05,"type":"quantitative"},"y":{"datum":8.72,"type":"quantitative"},"text":{"value":"C₂H⁻"}}},
  {"data":{"name":"TX"},"mark":{"type":"rule","color":"#444","strokeWidth":1.3},
   "encoding":{"x":{"field":"v","type":"quantitative"},"y":{"datum":0,"type":"quantitative"},"y2":{"datum":0.37}}},
  {"data":{"name":"TX"},"mark":{"type":"rule","color":"#444","strokeWidth":1.3},
   "encoding":{"x":{"field":"v","type":"quantitative"},"y":{"datum":10,"type":"quantitative"},"y2":{"datum":9.63}}},
  {"data":{"name":"TY"},"mark":{"type":"rule","color":"#444","strokeWidth":1.3},
   "encoding":{"y":{"field":"v","type":"quantitative"},"x":{"datum":-10,"type":"quantitative"},"x2":{"datum":-9.3}}},
  {"data":{"name":"TY"},"mark":{"type":"rule","color":"#444","strokeWidth":1.3},
   "encoding":{"y":{"field":"v","type":"quantitative"},"x":{"datum":10,"type":"quantitative"},"x2":{"datum":9.3}}}
 ]}
]
}
